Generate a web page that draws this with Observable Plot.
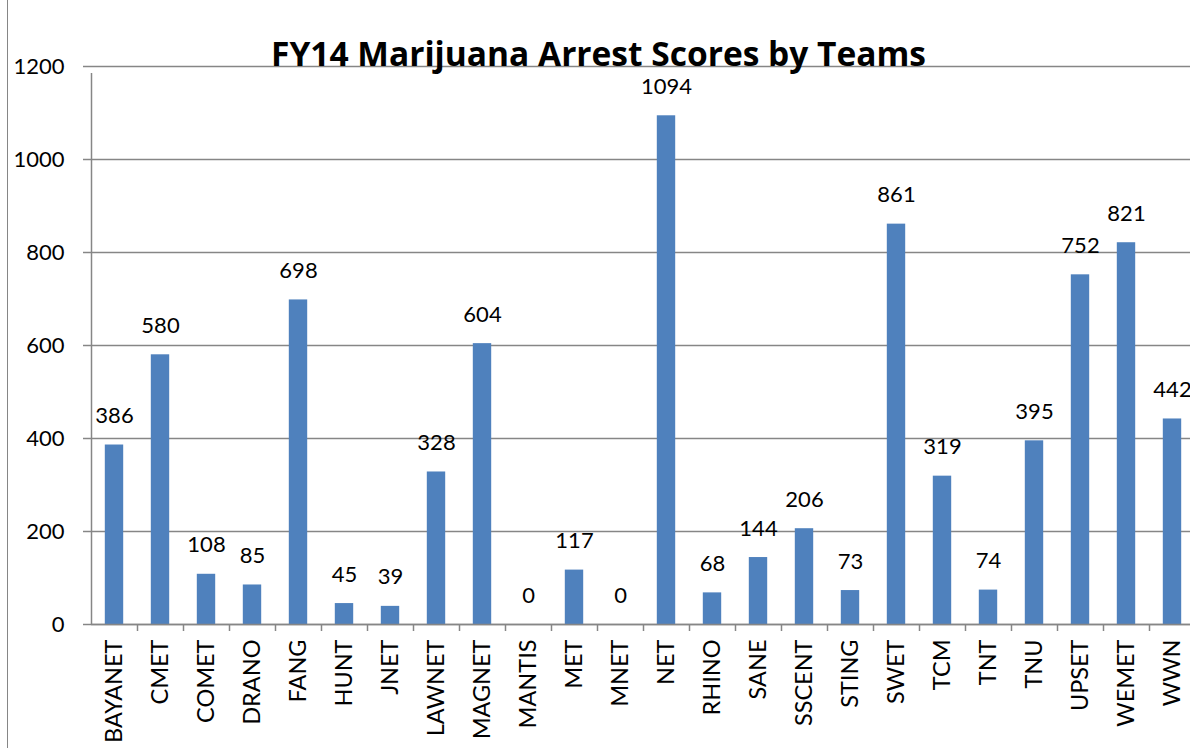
<!DOCTYPE html>
<html>
<head>
<meta charset="utf-8">
<script src="https://cdn.jsdelivr.net/npm/d3@7"></script>
<script src="https://cdn.jsdelivr.net/npm/@observablehq/plot@0.6"></script>
<style>
  html, body { margin: 0; padding: 0; background: #fff; }
  #wrap { position: relative; width: 1190px; height: 748px; overflow: hidden; }
  #border { position: absolute; left: 7px; top: 0; width: 0; height: 748px; border-left: 1.5px solid #868686; }
  svg { font-family: Lato, "Open Sans", sans-serif; }
</style>
</head>
<body>
<div id="wrap"><div id="border"></div></div>
<script>
const title = "FY14 Marijuana Arrest Scores by Teams";
const teams = ["BAYANET","CMET","COMET","DRANO","FANG","HUNT","JNET","LAWNET","MAGNET","MANTIS","MET","MNET","NET","RHINO","SANE","SSCENT","STING","SWET","TCM","TNT","TNU","UPSET","WEMET","WWN"];
const scores = [386,580,108,85,698,45,39,328,604,0,117,0,1094,68,144,206,73,861,319,74,395,752,821,442];
const yTicks = [0,200,400,600,800,1000,1200];

const data = teams.map((t, i) => ({team: t, score: scores[i]}));
const barColor = "#4F81BD";
const gridColor = "#868686";

const chart = Plot.plot({
  width: 1190,
  height: 748,
  marginLeft: 91,
  marginRight: -5,
  marginTop: 66,
  marginBottom: 124,
  style: {fontFamily: "Lato, 'Open Sans', sans-serif", background: "#fff", color: "#000"},
  x: {domain: teams, paddingInner: 0.6, paddingOuter: 0.3, round: false, label: null},
  y: {domain: [0, 1200], ticks: yTicks, label: null},
  marks: [
    Plot.gridY(yTicks, {stroke: gridColor, strokeOpacity: 1, strokeWidth: 1.5}),
    Plot.barY(data, {x: "team", y: "score", fill: barColor}),
    Plot.ruleX([teams[0]], {dx: -23, y1: 0, y2: 1200, insetBottom: -7, stroke: gridColor, strokeWidth: 1.5}),
    Plot.ruleX(teams.slice(1), {dx: -23, y1: 0, y2: 0, insetBottom: -7, stroke: gridColor, strokeWidth: 1.5}),
    Plot.ruleY([0], {stroke: gridColor, strokeWidth: 1.5}),
    Plot.axisY({ticks: yTicks, tickFormat: d => String(d), tickSize: 8, tickPadding: 19, stroke: gridColor, strokeWidth: 1.5, fontSize: 22, fill: "#000", label: null}),
    Plot.axisX({tickSize: 0, tickPadding: 15, tickRotate: -90, fontSize: 23.5, fill: "#000", label: null}),
    Plot.text(data, {x: "team", y: "score", text: d => String(d.score), dy: -22, lineAnchor: "bottom", fontSize: 22, fill: "#000"}),
    Plot.text([title], {frameAnchor: "top", dx: -45, dy: -1, lineAnchor: "bottom", fontSize: 33.5, fontWeight: "bold", fill: "#000", fontFamily: "'Open Sans', Lato, sans-serif"})
  ]
});
document.getElementById("wrap").appendChild(chart);
</script>
</body>
</html>
